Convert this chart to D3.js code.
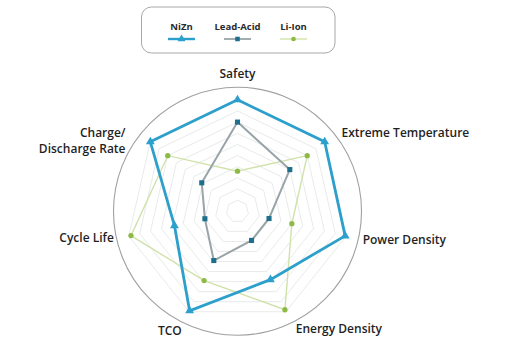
<!DOCTYPE html>
<html>
<head>
<meta charset="utf-8">
<script src="https://cdn.jsdelivr.net/npm/d3@7/dist/d3.min.js"></script>
<style>
  html, body { margin: 0; padding: 0; background: #fff; }
  svg { display: block; font-family: "Open Sans", Lato, sans-serif; }
</style>
</head>
<body>
<svg id="chart" width="518" height="363"></svg>
<script>
// ---- Data ----
const categories = ["Safety", "Extreme Temperature", "Power Density", "Energy Density", "TCO", "Cycle Life", "Charge/\nDischarge Rate"];
const seriesNames = ["NiZn", "Lead-Acid", "Li-Ion"];
const nizn = [10, 10, 9.9, 6.8, 9.9, 5.8, 10];
const leadAcid = [8, 6, 2.9, 2.9, 4.9, 3, 4.1];
const liIon = [3.6, 8, 5, 9.8, 6.9, 9.8, 8];
const gridLevels = [1, 2, 3, 4, 5, 6, 7, 8, 9, 10];

// ---- Layout ----
const svg = d3.select("#chart");
const cx = 237.5, cy = 211.3;
const rMax = 111.5;
const outerCircleR = 124;

const r = d3.scaleLinear().domain([0, 10]).range([0, rMax]);
const angle = d3.scaleLinear().domain([0, categories.length]).range([0, 2 * Math.PI]);

const g = svg.append("g").attr("transform", `translate(${cx},${cy})`);

const pt = (i, v) => [r(v) * Math.sin(angle(i)), -r(v) * Math.cos(angle(i))];

// grid heptagons
const lineClosed = d3.line().curve(d3.curveLinearClosed);
g.selectAll("path.grid").data(gridLevels).join("path")
  .attr("class", "grid")
  .attr("d", lv => lineClosed(categories.map((c, i) => pt(i, lv))))
  .attr("fill", "none")
  .attr("stroke", "#e2e4e4")
  .attr("stroke-width", 0.8);

// outer circle
g.append("circle").attr("r", outerCircleR)
  .attr("fill", "none").attr("stroke", "#a0a0a0").attr("stroke-width", 1.1);

// series
const styles = [
  { line: "#2c9fcb", width: 2.8, lwidth: 2.4, marker: "triangle", mcolor: "#2c9fcb", size: 34 },
  { line: "#98a4a8", width: 2, lwidth: 1.8, marker: "square", mcolor: "#1e6f8e", size: 26 },
  { line: "#d0e2aa", width: 1.4, lwidth: 1.4, marker: "circle", mcolor: "#8cba45", size: 22 }
];
const symbolType = { triangle: d3.symbolTriangle, square: d3.symbolSquare, circle: d3.symbolCircle };
const order = [2, 1, 0];

order.forEach(si => {
  const vals = [nizn, leadAcid, liIon][si];
  const st = styles[si];
  const pts = vals.map((v, i) => pt(i, v));
  g.append("path").attr("d", lineClosed(pts))
    .attr("fill", "none").attr("stroke", st.line)
    .attr("stroke-width", st.width).attr("stroke-linejoin", "miter");
  g.selectAll(null).data(pts).join("path")
    .attr("transform", d => `translate(${d[0]},${d[1]})`)
    .attr("d", d3.symbol().type(symbolType[st.marker]).size(st.size))
    .attr("fill", st.mcolor);
});

// axis labels
const labelR = 133;
const labelTweaks = [
  { dx: 0, dy: 0 }, { dx: 0, dy: 8.5 }, { dx: -4.5, dy: 3.5 },
  { dx: 0.5, dy: 2 }, { dx: 2, dy: 4 }, { dx: 6, dy: 1.5 }, { dx: -8, dy: 8.5 }
];
const lineGap = 16.5;
categories.forEach((c, i) => {
  const [x, y] = pt(i, 10 * labelR / rMax);
  const s = Math.sin(angle(i));
  const anchor = Math.abs(s) < 0.01 ? "middle" : (s > 0 ? "start" : "end");
  const lines = c.split("\n");
  lines.forEach((ln, k) => {
    g.append("text")
      .attr("x", x + labelTweaks[i].dx)
      .attr("y", y + labelTweaks[i].dy + k * lineGap)
      .attr("text-anchor", anchor)
      .attr("font-size", 12).attr("font-weight", 600).attr("fill", "#1f1f1f")
      .text(ln);
  });
});

// legend
const legend = svg.append("g");
legend.append("rect").attr("x", 141.5).attr("y", 7).attr("width", 193.5).attr("height", 46)
  .attr("rx", 10).attr("fill", "#fff").attr("stroke", "#a8a8a8").attr("stroke-width", 1);
const legendX = [181.5, 237.5, 293.5];
seriesNames.forEach((name, si) => {
  const st = styles[si];
  const lx = legendX[si];
  legend.append("text").attr("x", lx).attr("y", 29.5).attr("text-anchor", "middle")
    .attr("font-size", 9.5).attr("font-weight", 700).attr("fill", "#2a2a2a").text(name);
  legend.append("line").attr("x1", lx - 13.5).attr("x2", lx + 13.5).attr("y1", 39).attr("y2", 39)
    .attr("stroke", st.line).attr("stroke-width", st.lwidth);
  legend.append("path").attr("transform", `translate(${lx},39)`)
    .attr("d", d3.symbol().type(symbolType[st.marker]).size(st.size * 0.8))
    .attr("fill", st.mcolor);
});
</script>
</body>
</html>
